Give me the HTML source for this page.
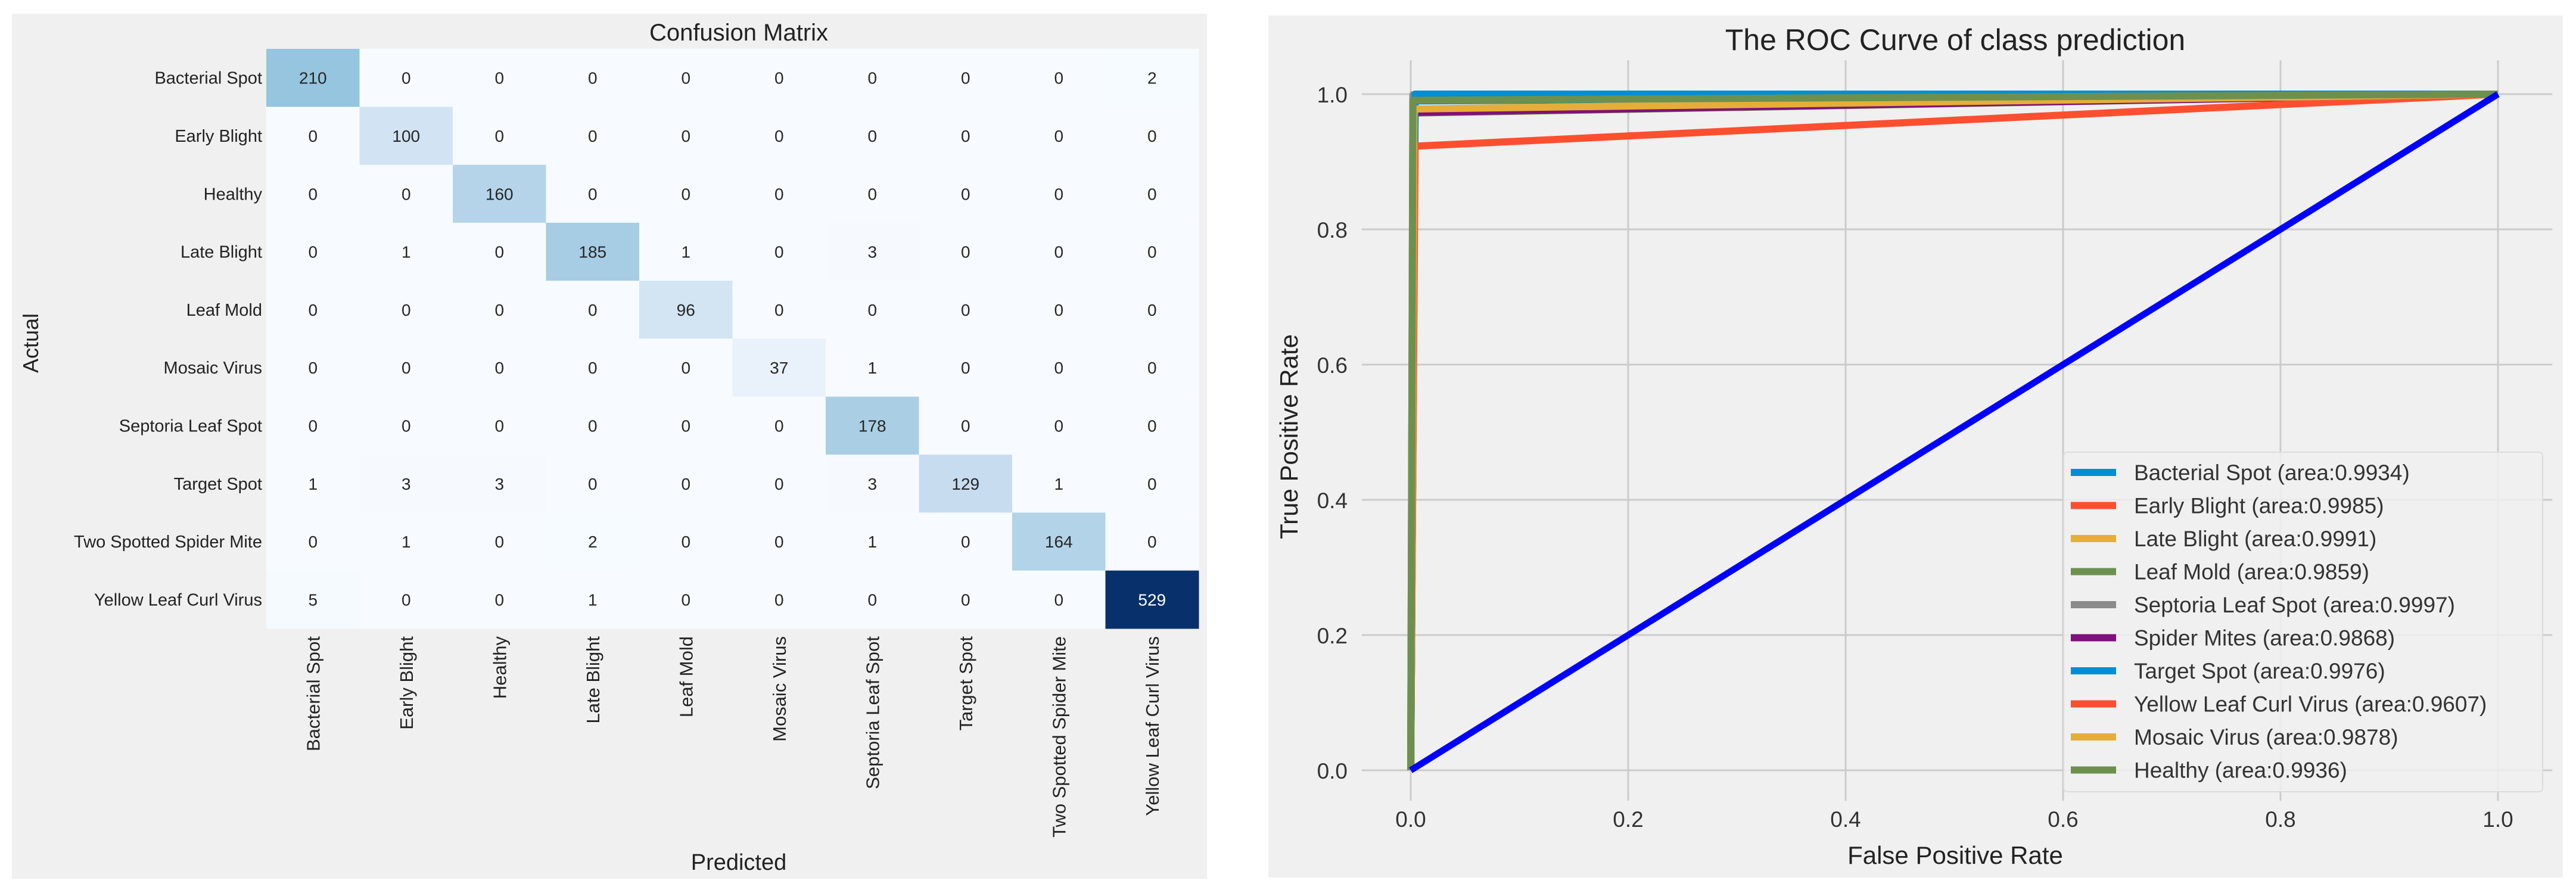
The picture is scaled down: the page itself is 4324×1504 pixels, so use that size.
<!DOCTYPE html>
<html><head><meta charset="utf-8">
<style>
html,body{margin:0;padding:0;background:#fff;}
svg{display:block;font-family:"Liberation Sans","DejaVu Sans",sans-serif;}
</style></head>
<body>
<svg id="fig" width="4324" height="1504" viewBox="0 0 4324 1504" xmlns="http://www.w3.org/2000/svg">
  <rect x="0" y="0" width="4324" height="1504" fill="#ffffff"/>
  <g id="cm">
    <rect x="20" y="23" width="2006" height="1452" fill="#f0f0f0"/>
    <text x="1240" y="68" font-size="40" text-anchor="middle" fill="#222">Confusion Matrix</text>
    <text x="0" y="0" font-size="36" text-anchor="middle" fill="#222" transform="translate(64,576) rotate(-90)">Actual</text>
    <text x="1240" y="1460" font-size="38" text-anchor="middle" fill="#222">Predicted</text>
    <g id="cells"></g>
    <g id="cmlabels"></g>
  </g>
  <g id="roc">
    <rect x="2129" y="26" width="2173" height="1447" fill="#f0f0f0"/>
    <text x="3282" y="84" font-size="50" text-anchor="middle" fill="#222">The ROC Curve of class prediction</text>
    <text x="0" y="0" font-size="42" text-anchor="middle" fill="#222" transform="translate(2178,733) rotate(-90)">True Positive Rate</text>
    <text x="3282" y="1450" font-size="42" text-anchor="middle" fill="#222">False Positive Rate</text>
    <g id="grid"></g>
    <g id="curves"></g>
    <g id="legend"></g>
  </g>
</svg>
<script>
// ---------- Confusion matrix data ----------
const classes = ["Bacterial Spot","Early Blight","Healthy","Late Blight","Leaf Mold","Mosaic Virus","Septoria Leaf Spot","Target Spot","Two Spotted Spider Mite","Yellow Leaf Curl Virus"];
const matrix = [
 [210,0,0,0,0,0,0,0,0,2],
 [0,100,0,0,0,0,0,0,0,0],
 [0,0,160,0,0,0,0,0,0,0],
 [0,1,0,185,1,0,3,0,0,0],
 [0,0,0,0,96,0,0,0,0,0],
 [0,0,0,0,0,37,1,0,0,0],
 [0,0,0,0,0,0,178,0,0,0],
 [1,3,3,0,0,0,3,129,1,0],
 [0,1,0,2,0,0,1,0,164,0],
 [5,0,0,1,0,0,0,0,0,529]
];
// ---------- ROC data ----------
const rocLabels = ["Bacterial Spot (area:0.9934)","Early Blight (area:0.9985)","Late Blight (area:0.9991)","Leaf Mold (area:0.9859)","Septoria Leaf Spot (area:0.9997)","Spider Mites (area:0.9868)","Target Spot (area:0.9976)","Yellow Leaf Curl Virus (area:0.9607)","Mosaic Virus  (area:0.9878)","Healthy (area:0.9936)"];
const rocColors = ["#008fd5","#fc4f30","#e5ae38","#6d904f","#8b8b8b","#810f7c","#008fd5","#fc4f30","#e5ae38","#6d904f"];
const rocFpr = [[0,0.004,1],[0,0.003,1],[0,0.003,1],[0,0.002,1],[0,0.002,1],[0,0.004,1],[0,0.004,1],[0,0.004,1],[0,0.003,1],[0,0.002,1]];
const rocTpr = [[0,0.99,1],[0,0.997,1],[0,0.998,1],[0,0.972,1],[0,0.999,1],[0,0.973,1],[0,1.0,1],[0,0.923,1],[0,0.978,1],[0,0.991,1]];
const chanceFpr = [0,1];
const chanceTpr = [0,1];
const rocTicks = [0,0.2,0.4,0.6,0.8,1.0];
const rocTickLabels = ["0.0","0.2","0.4","0.6","0.8","1.0"];

const NS = "http://www.w3.org/2000/svg";
function mk(tag, attrs, parent){const e=document.createElementNS(NS,tag);for(const k in attrs)e.setAttribute(k,attrs[k]);parent.appendChild(e);return e;}

const blues = ["#f7fbff","#deebf7","#c6dbef","#9ecae1","#6baed6","#4292c6","#2171b5","#08519c","#08306b"];
function hex(c){return [parseInt(c.substr(1,2),16),parseInt(c.substr(3,2),16),parseInt(c.substr(5,2),16)];}
function bluesAt(t){t=Math.max(0,Math.min(1,t));const p=t*8;const i=Math.min(7,Math.floor(p));const f=p-i;const a=hex(blues[i]),b=hex(blues[i+1]);return "rgb("+a.map((v,k)=>Math.round(v+(b[k]-v)*f)).join(",")+")";}

const mx0=447, my0=82, cw=156.5, ch=97.3;
function cellX(j){return mx0+j*cw;}
function cellY(i){return my0+i*ch;}
const vmax = Math.max(...matrix.flat());
const cellsG=document.getElementById("cells");
const labG=document.getElementById("cmlabels");
matrix.forEach((row,i)=>{
  row.forEach((v,j)=>{
    const r=mk("rect",{x:cellX(j),y:cellY(i),width:cw+0.5,height:ch+0.5,fill:bluesAt(v/vmax)},cellsG);
    
    
    const t=mk("text",{x:cellX(j)+cw/2,y:cellY(i)+ch/2+10,"font-size":28,"text-anchor":"middle",fill:(v/vmax>0.5?"#ffffff":"#262626")},cellsG);
    t.textContent=v;
    
    
  });
});
classes.forEach((c,i)=>{
  const t=mk("text",{x:440,y:cellY(i)+ch/2+10,"font-size":29,"text-anchor":"end",fill:"#222"},labG);
  t.textContent=c;
  
  
  const cx=cellX(i)+cw/2+11;
  const u=mk("text",{x:0,y:0,"font-size":31,"text-anchor":"end",fill:"#222",transform:"translate("+cx+",1068) rotate(-90)"},labG);
  u.textContent=c;
  
  
});

const ax0=2368, ax1=4193, ay0=1293, ay1=158;
function X(v){return ax0+(ax1-ax0)*v;}
function Y(v){return ay0+(ay1-ay0)*v;}
const gridG=document.getElementById("grid");
rocTicks.forEach((v,k)=>{
  const gx=mk("line",{x1:X(v),x2:X(v),y1:Y(1.05),y2:Y(-0.045),stroke:"#cbcbcb","stroke-width":3},gridG);
  
  
  const gy=mk("line",{x1:X(-0.045),x2:X(1.05),y1:Y(v),y2:Y(v),stroke:"#cbcbcb","stroke-width":3},gridG);
  
  
  const tx=mk("text",{x:X(v),y:1388,"font-size":37,"text-anchor":"middle",fill:"#333"},gridG);
  tx.textContent=rocTickLabels[k];
  
  
  const ty=mk("text",{x:2262,y:Y(v)+14,"font-size":37,"text-anchor":"end",fill:"#333"},gridG);
  ty.textContent=rocTickLabels[k];
  
  
});
const curvesG=document.getElementById("curves");
rocLabels.forEach((lab,s)=>{
  const pts=rocFpr[s].map((f,k)=>X(f)+","+Y(rocTpr[s][k])).join(" ");
  const p=mk("polyline",{points:pts,fill:"none",stroke:rocColors[s],"stroke-width":12,"stroke-linejoin":"round"},curvesG);
  
  
});
const chance=mk("polyline",{points:chanceFpr.map((f,k)=>X(f)+","+Y(chanceTpr[k])).join(" "),fill:"none",stroke:"#0000ff","stroke-width":11},curvesG);



const legG=document.getElementById("legend");
const lb=mk("rect",{x:3464,y:759,width:804,height:570,rx:6,fill:"#f0f0f0","fill-opacity":0.85,stroke:"#dcdcdc","stroke-width":2},legG);


rocLabels.forEach((lab,s)=>{
  const y=793+s*55.5;
  const h=mk("line",{x1:3476,x2:3552,y1:y,y2:y,stroke:rocColors[s],"stroke-width":12},legG);
  
  
  const t=mk("text",{x:3582,y:y+13,"font-size":37,fill:"#333","xml:space":"preserve"},legG);
  t.textContent=lab;
  
  
});
</script>
</body></html>
